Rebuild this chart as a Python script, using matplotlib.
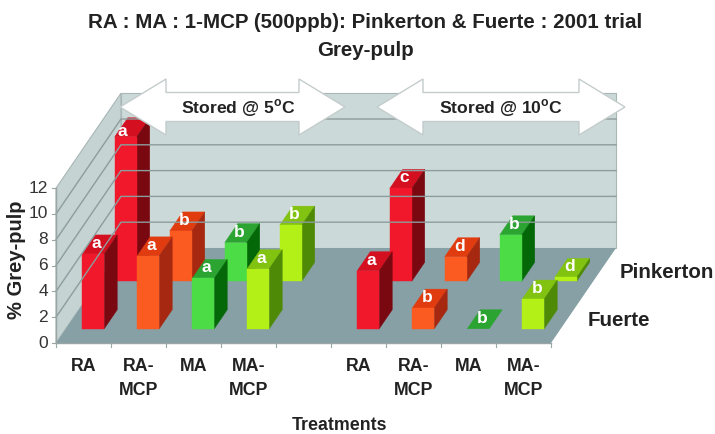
import matplotlib
matplotlib.use("Agg")
import matplotlib.pyplot as plt
from matplotlib.patches import Polygon

plt.rcParams['font.family'] = ['Liberation Sans', 'DejaVu Sans']
plt.rcParams['mathtext.fontset'] = 'custom'
plt.rcParams['mathtext.bf'] = 'Liberation Sans:bold'

treatments = ["RA", "RA-\nMCP", "MA", "MA-\nMCP", "", "RA", "RA-\nMCP", "MA", "MA-\nMCP"]
y_ticks = [0, 2, 4, 6, 8, 10, 12]

# None = no bar in the gap between the two storage temperatures
fuerte = [5.8, 5.65, 3.9, 4.65, None, 4.5, 1.6, 0, 2.3]
pinkerton = [11.2, 3.9, 3.0, 4.35, None, 7.2, 1.9, 3.6, 0.3]
fuerte_letters = ["a", "a", "a", "a", "", "a", "b", "b", "b"]
pinkerton_letters = ["a", "b", "b", "b", "", "c", "d", "b", "d"]

# front, top, side
colors = {
    "RA": ("#f0182a", "#d40f20", "#7a0810"),
    "RA-\nMCP": ("#fb5a20", "#e03c10", "#a62810"),
    "MA": ("#4cdc46", "#2ca432", "#056808"),
    "MA-\nMCP": ("#b2f018", "#82c210", "#4e8a06"),
}

# chart box in pixels, excel style oblique 3d
x0, y0 = 56, 343
cat_w = 55
unit = 12.9
dx, dy = 65, -95
n_cat = len(treatments)
bar_w = 0.4
bar_depth = 0.2


def pt(cat, depth, val):
    return (x0 + cat * cat_w + depth * dx, y0 + depth * dy - val * unit)


fig = plt.figure(figsize=(7.15, 4.34), dpi=100)
ax = fig.add_axes([0, 0, 1, 1])
ax.set_xlim(0, 715)
ax.set_ylim(434, 0)
ax.axis("off")

wall = "#ccd9d9"
grid = "#8d9c9c"
floor = "#86a0a5"
edge = "#a9b6b6"

ymax = y_ticks[-1]
ax.add_patch(Polygon([pt(0, 0, 0), pt(0, 1, 0), pt(0, 1, ymax), pt(0, 0, ymax)], fc="#c6d3d3", ec=edge, lw=0.8))
ax.add_patch(Polygon([pt(0, 1, 0), pt(n_cat, 1, 0), pt(n_cat, 1, ymax), pt(0, 1, ymax)], fc=wall, ec=edge, lw=0.8))
ax.add_patch(Polygon([pt(0, 0, 0), pt(n_cat, 0, 0), pt(n_cat, 1, 0), pt(0, 1, 0)], fc=floor, ec="none"))

for t in y_ticks[1:-1]:
    a, b, c = pt(0, 0, t), pt(0, 1, t), pt(n_cat, 1, t)
    ax.plot([a[0], b[0], c[0]], [a[1], b[1], c[1]], color=grid, lw=1)

# axes and ticks
a, b = pt(0, 0, 0), pt(0, 0, ymax)
ax.plot([a[0], b[0]], [a[1], b[1]], color="#9aa5a5", lw=1)
for t in y_ticks:
    p = pt(0, 0, t)
    ax.plot([p[0] - 4, p[0]], [p[1], p[1]], color="#9aa5a5", lw=0.8)
    ax.text(p[0] - 8, p[1], str(t), ha="right", va="center", fontsize=12.5, color="#333333")
a, b = pt(0, 0, 0), pt(n_cat, 0, 0)
ax.plot([a[0], b[0]], [a[1], b[1]], color="#9aa5a5", lw=1)
for i in range(n_cat + 1):
    p = pt(i, 0, 0)
    ax.plot([p[0], p[0]], [p[1], p[1] + 4], color="#9aa5a5", lw=0.8)
for i, name in enumerate(treatments):
    p = pt(i + 0.5, 0, 0)
    ax.text(p[0], p[1] + 15, name, ha="center", va="top", fontsize=12.8, fontweight="bold",
            color="#222222", linespacing=1.55)


def draw_bar(cat, d, val, name):
    front, top, side = colors[name]
    l = cat + 0.5 - bar_w / 2
    r = cat + 0.5 + bar_w / 2
    d2 = d + bar_depth
    # top face, then side and front if the bar has any height
    ax.add_patch(Polygon([pt(l, d, val), pt(r, d, val), pt(r, d2, val), pt(l, d2, val)], fc=top, ec=top, lw=0.3))
    if val > 0:
        ax.add_patch(Polygon([pt(r, d, 0), pt(r, d2, 0), pt(r, d2, val), pt(r, d, val)], fc=side, ec=side, lw=0.3))
        ax.add_patch(Polygon([pt(l, d, 0), pt(r, d, 0), pt(r, d, val), pt(l, d, val)], fc=front, ec=front, lw=0.3))


def draw_letter(cat, d, val, letter, nudge=(-3, -1)):
    p = pt(cat + 0.5, d + bar_depth / 2, val)
    ax.text(p[0] + nudge[0], p[1] + nudge[1], letter, ha="center", va="center", color="white",
            fontsize=12.5, fontweight="bold", zorder=6)


tallest = 11.2
for vals, letters, d in [(pinkerton, pinkerton_letters, 0.65), (fuerte, fuerte_letters, 0.15)]:
    for i, v in enumerate(vals):
        if v is not None:
            draw_bar(i, d, v, treatments[i])
    for i, v in enumerate(vals):
        if v is not None:
            # tallest bar has its letter pushed to the front of the top face
            nudge = (-10, 4.5) if v == tallest else (-3, -1)
            draw_letter(i, d, v, letters[i], nudge)

# storage temperature arrows
arrow_y = 107
for left, right, label, text_x in [(120, 345, r"Stored @ 5$^{\mathbf{o}}$C", 238),
                                   (377, 625, r"Stored @ 10$^{\mathbf{o}}$C", 501)]:
    head = 46
    ax.add_patch(Polygon([
        (left, arrow_y), (left + head, arrow_y - 28), (left + head, arrow_y - 14.5),
        (right - head, arrow_y - 14.5), (right - head, arrow_y - 28), (right, arrow_y),
        (right - head, arrow_y + 28), (right - head, arrow_y + 14.5),
        (left + head, arrow_y + 14.5), (left + head, arrow_y + 28)],
        fc="white", ec="#c4cccc", lw=1, zorder=5))
    ax.text(text_x, arrow_y + 1, label, ha="center", va="center", fontsize=12.6,
            fontweight="bold", color="#222222", zorder=6)

ax.text(365, 22, "RA : MA : 1-MCP (500ppb): Pinkerton & Fuerte : 2001 trial", ha="center", va="center",
        fontsize=14.8, fontweight="bold", color="#222222")
ax.text(365, 51, "Grey-pulp", ha="center", va="center", fontsize=14.8, fontweight="bold", color="#222222")
ax.text(17, 260, "% Grey-pulp", rotation=90, ha="center", va="center", fontsize=14.5, fontweight="bold",
        color="#222222")
ax.text(339, 425, "Treatments", ha="center", va="center", fontsize=12.8, fontweight="bold", color="#222222")
ax.text(620, 273, "Pinkerton", ha="left", va="center", fontsize=14.8, fontweight="bold", color="#222222")
ax.text(588, 320, "Fuerte", ha="left", va="center", fontsize=14.8, fontweight="bold", color="#222222")

fig.savefig("out.png", dpi=100)
